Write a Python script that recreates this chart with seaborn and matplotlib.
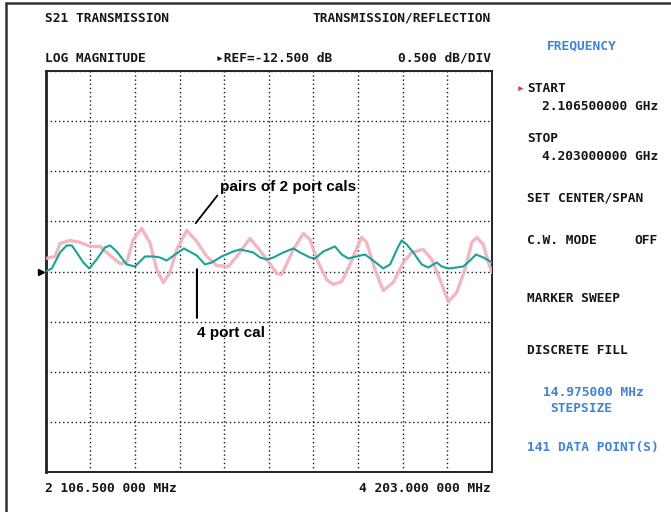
import numpy as np
import matplotlib
matplotlib.use("Agg")
import matplotlib.pyplot as plt
import seaborn as sns
from matplotlib.lines import Line2D
from matplotlib.transforms import blended_transform_factory

# ---- sweep settings -------------------------------------------------------
START_MHZ = 2106.5
STOP_MHZ = 4203.0
REF_DB = -12.5
DB_PER_DIV = 0.5
N_XDIV = 10
N_YDIV = 8

# ---- traces: S21 magnitude (dB) vs frequency (MHz) ------------------------
# four-port calibration
four_port_freq = [2106.5, 2135, 2174, 2205, 2229, 2252, 2283, 2311, 2346, 2385,
                  2409, 2440, 2487, 2526, 2573, 2612, 2643, 2675, 2722, 2756,
                  2816, 2855, 2886, 2933, 2988, 3019, 3082, 3113, 3145, 3176,
                  3223, 3270, 3301, 3348, 3371, 3411, 3465, 3497, 3528, 3567,
                  3606, 3638, 3669, 3692, 3724, 3763, 3779, 3802, 3833, 3873,
                  3904, 3943, 3967, 3998, 4037, 4068, 4100, 4128, 4162, 4203]
four_port_db = [-12.50, -12.47, -12.31, -12.24, -12.24, -12.31, -12.41, -12.47, -12.38, -12.26,
                -12.24, -12.30, -12.43, -12.45, -12.35, -12.35, -12.36, -12.39, -12.32, -12.27,
                -12.34, -12.43, -12.41, -12.35, -12.30, -12.28, -12.31, -12.36, -12.38, -12.36,
                -12.31, -12.27, -12.31, -12.36, -12.37, -12.30, -12.25, -12.33, -12.37, -12.35,
                -12.33, -12.38, -12.43, -12.47, -12.43, -12.25, -12.19, -12.23, -12.31, -12.43,
                -12.46, -12.41, -12.45, -12.47, -12.46, -12.45, -12.39, -12.33, -12.36, -12.41]

# pairs of two-port calibrations
two_port_freq = [2106.5, 2150, 2174, 2221, 2268, 2315, 2362, 2409, 2455, 2487,
                 2518, 2557, 2596, 2628, 2659, 2690, 2722, 2769, 2816, 2863,
                 2910, 2964, 3004, 3066, 3098, 3145, 3192, 3215, 3270, 3317,
                 3348, 3380, 3426, 3458, 3497, 3536, 3575, 3591, 3614, 3653,
                 3692, 3739, 3786, 3826, 3880, 3920, 3959, 3998, 4037, 4076,
                 4108, 4131, 4162, 4186, 4203]
two_port_db = [-12.37, -12.35, -12.22, -12.19, -12.21, -12.25, -12.25, -12.34, -12.42, -12.41,
               -12.18, -12.07, -12.21, -12.48, -12.61, -12.51, -12.28, -12.09, -12.20, -12.35,
               -12.44, -12.45, -12.35, -12.17, -12.25, -12.38, -12.52, -12.53, -12.28, -12.12,
               -12.18, -12.38, -12.58, -12.63, -12.60, -12.43, -12.23, -12.16, -12.21, -12.48,
               -12.69, -12.61, -12.41, -12.31, -12.28, -12.38, -12.58, -12.80, -12.71, -12.48,
               -12.21, -12.16, -12.23, -12.41, -12.51]

# ---- screen text ------------------------------------------------------------
menu_items = [
    ("START", 89), ("STOP", 139), ("SET CENTER/SPAN", 198),
    ("C.W. MODE", 240), ("MARKER SWEEP", 299), ("DISCRETE FILL", 350),
]
menu_values = [("2.106500000 GHz", 106), ("4.203000000 GHz", 157)]
start_label = "2 106.500 000 MHz"
stop_label = "4 203.000 000 MHz"

# ---- figure -----------------------------------------------------------------
sns.set_style("white")
plt.rcParams["font.family"] = ["DejaVu Sans Mono", "DejaVu Sans"]

W, H = 671, 512
fig = plt.figure(figsize=(W / 100, H / 100), dpi=100)
fig.patch.set_facecolor("white")

ax_l, ax_r, ax_t, ax_b = 45.7, 492.0, 71.0, 472.0
ax = fig.add_axes([ax_l / W, 1 - ax_b / H, (ax_r - ax_l) / W, (ax_b - ax_t) / H])

half = N_YDIV / 2 * DB_PER_DIV
ax.set_xlim(START_MHZ, STOP_MHZ)
ax.set_ylim(REF_DB - half, REF_DB + half)
ax.set_xticks(np.linspace(START_MHZ, STOP_MHZ, N_XDIV + 1))
ax.set_yticks(np.linspace(REF_DB - half, REF_DB + half, N_YDIV + 1))
ax.tick_params(length=0, labelbottom=False, labelleft=False)
ax.grid(True, color="#1a1a1a", linestyle=(0, (1, 2)), linewidth=1.0)
ax.set_xlabel("")
ax.set_ylabel("")
for side, sp in ax.spines.items():
    sp.set_visible(True)
    sp.set_color("#222222")
    sp.set_linewidth(2.0 if side == "left" else 1.4)

sns.lineplot(x=two_port_freq, y=two_port_db, ax=ax, color="#F2B0BB",
             linewidth=2.4, alpha=0.9, zorder=3)
sns.lineplot(x=four_port_freq, y=four_port_db, ax=ax, color="#16A398",
             linewidth=1.5, zorder=4)

# reference-level pointer on the left edge
blend = blended_transform_factory(ax.transAxes, ax.transData)
ax.plot([-0.011], [REF_DB], marker=">", color="black", markersize=5,
        transform=blend, clip_on=False)

# trace call-outs
ann_font = dict(family=["Liberation Sans", "DejaVu Sans"], fontweight="bold",
                fontsize=11, color="black")
ax.annotate("", xy=(2803, -12.04), xytext=(2921, -11.72),
            arrowprops=dict(arrowstyle="-", color="black", lw=1.3))
ax.text(2927, -11.66, "pairs of 2 port cals", ha="left", va="center", **ann_font)
ax.annotate("", xy=(2817, -12.45), xytext=(2817, -12.99),
            arrowprops=dict(arrowstyle="-", color="black", lw=1.5))
ax.text(2817, -13.11, "4 port cal", ha="left", va="center", **ann_font)


def put(x, y, s, ha="left", color="#151515"):
    fig.text(x / W, 1 - y / H, s, ha=ha, va="center", color=color,
             fontsize=9.3, fontweight="bold")


blue = "#3F82D8"
put(45, 18, "S21 TRANSMISSION")
put(491, 18, "TRANSMISSION/REFLECTION", ha="right")
put(45, 58, "LOG MAGNITUDE")
put(216, 58, f"\u25B8REF={REF_DB:.3f} dB")
put(491, 58, f"{DB_PER_DIV:.3f} dB/DIV", ha="right")

put(547, 46, "FREQUENCY", color=blue)
put(517, 89, "\u25B8", color="#E0303A")
for text, y in menu_items:
    put(527, y, text)
for text, y in menu_values:
    put(542, y, text)
put(658, 240, "OFF", ha="right")
put(543, 392, "14.975000 MHz", color=blue)
put(550, 409, "STEPSIZE", color=blue)
put(527, 448, "141 DATA POINT(S)", color=blue)

put(45, 488, start_label)
put(491, 488, stop_label, ha="right")

# outer screen frame (left and top edges)
fig.add_artist(Line2D([6 / W, 6 / W], [0, 1 - 3 / H], transform=fig.transFigure,
                      color="#333333", linewidth=1.8))
fig.add_artist(Line2D([6 / W, 1], [1 - 3 / H, 1 - 3 / H], transform=fig.transFigure,
                      color="#333333", linewidth=1.8))

fig.savefig("out.png", dpi=100, facecolor="white")
